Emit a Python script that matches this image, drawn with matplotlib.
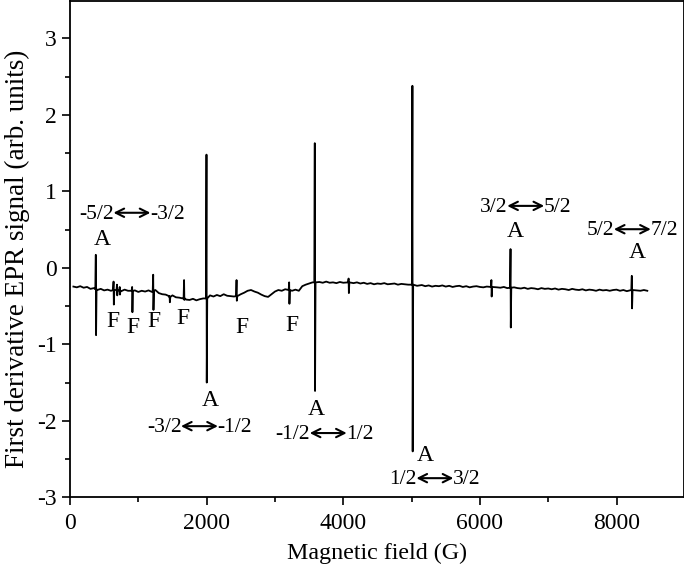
import numpy as np
import matplotlib
matplotlib.use("Agg")
import matplotlib.pyplot as plt
import matplotlib.transforms as mtransforms
from matplotlib.ticker import MultipleLocator

# baseline of the spectrum (field in G, signal in arb. units)
base_field = [50, 100, 150, 200, 250, 300, 350, 400, 450, 500, 550, 600, 700, 750,
              800, 850, 950, 1000, 1050, 1100, 1150, 1200, 1250, 1300, 1350, 1400,
              1450, 1500, 1550, 1600, 1650, 1700, 1750, 1800, 1850, 1900, 1950,
              2050, 2100, 2150, 2200, 2250, 2300, 2350, 2400, 2500, 2550, 2600,
              2650, 2700, 2750, 2800, 2850, 2900, 2950, 3000, 3050, 3100, 3150,
              3250, 3300, 3350, 3400, 3450, 3500, 3550, 3650, 3700, 3750, 3800,
              3850, 3900, 3950, 4000, 4150, 4200, 4250, 4300, 4350, 4400, 4450,
              4500, 4550, 4600, 4650, 4700, 4750, 4800, 4850, 4900, 4950, 5080,
              5150, 5200, 5250, 5300, 5350, 5400, 5450, 5500, 5550, 5600, 5650,
              5700, 5750, 5800, 5850, 5900, 5950, 6000, 6050, 6100, 6250, 6300,
              6350, 6400, 6500, 6550, 6600, 6650, 6700, 6750, 6800, 6850, 6900,
              6950, 7000, 7050, 7100, 7150, 7200, 7250, 7300, 7350, 7400, 7450,
              7500, 7550, 7600, 7650, 7700, 7750, 7800, 7850, 7900, 7950, 8000,
              8050, 8100, 8150, 8300, 8350, 8400, 8450]
base_signal = [-0.245, -0.255, -0.24, -0.26, -0.25, -0.275, -0.265, -0.29, -0.275, -0.295, -0.285, -0.30, -0.29, -0.305,
               -0.285, -0.30, -0.295, -0.315, -0.30, -0.31, -0.295, -0.315, -0.29, -0.33, -0.345, -0.35,
               -0.37, -0.36, -0.385, -0.39, -0.40, -0.415, -0.42, -0.405, -0.425, -0.41, -0.40,
               -0.36, -0.375, -0.355, -0.37, -0.345, -0.365, -0.37, -0.375, -0.345, -0.325, -0.30,
               -0.29, -0.31, -0.325, -0.35, -0.37, -0.38, -0.345, -0.31, -0.29, -0.30, -0.28,
               -0.30, -0.285, -0.30, -0.24, -0.22, -0.205, -0.19, -0.185, -0.195, -0.18, -0.195,
               -0.19, -0.20, -0.185, -0.195, -0.20, -0.19, -0.205, -0.195, -0.21, -0.20, -0.215,
               -0.205, -0.21, -0.20, -0.215, -0.21, -0.205, -0.22, -0.21, -0.215, -0.22, -0.235,
               -0.225, -0.24, -0.23, -0.245, -0.235, -0.24, -0.23, -0.245, -0.235, -0.25, -0.24,
               -0.235, -0.25, -0.24, -0.255, -0.245, -0.24, -0.25, -0.255, -0.245, -0.255, -0.26,
               -0.25, -0.265, -0.255, -0.265, -0.27, -0.26, -0.275, -0.265, -0.27, -0.28, -0.265,
               -0.275, -0.27, -0.28, -0.27, -0.285, -0.275, -0.28, -0.29, -0.275, -0.285, -0.29,
               -0.28, -0.295, -0.285, -0.29, -0.30, -0.285, -0.295, -0.29, -0.30, -0.29, -0.285,
               -0.30, -0.29, -0.305, -0.295, -0.30, -0.29, -0.30]

# sharp resonance lines: position, upper and lower extreme, local baseline
line_field = [380, 640, 690, 730, 912, 1220, 1460, 1672, 2000, 2440, 3210, 3585,
              4080, 5014, 6170, 6450, 8225]
line_top = [0.17, -0.18, -0.22, -0.25, -0.25, -0.09, -0.37, -0.16, 1.48, -0.16,
            -0.19, 1.63, -0.14, 2.38, -0.16, 0.245, -0.105]
line_bottom = [-0.88, -0.48, -0.36, -0.35, -0.58, -0.55, -0.45, -0.42, -1.50, -0.43,
               -0.47, -1.61, -0.33, -2.40, -0.375, -0.78, -0.53]
line_base = [-0.28, -0.29, -0.29, -0.30, -0.30, -0.30, -0.38, -0.40, -0.40, -0.37,
             -0.29, -0.19, -0.19, -0.22, -0.25, -0.26, -0.29]

# site labels (A / F)
site_text = ["A", "F", "F", "F", "F", "A", "F", "F", "A", "A", "A", "A"]
site_x = [470, 634, 927, 1234, 1650, 2060, 2514, 3246, 3611, 5198, 6515, 8297]
site_y = [0.37, -0.70, -0.78, -0.70, -0.66, -1.74, -0.78, -0.75, -1.85, -2.45, 0.475, 0.20]

# transition labels: left spin, right spin, arrow centre
trans_left = ["-5/2", "-3/2", "-1/2", "1/2", "3/2", "5/2"]
trans_right = ["-3/2", "-1/2", "1/2", "3/2", "5/2", "7/2"]
trans_x = [907, 1895, 3780, 5341, 6670, 8231]
trans_y = [0.72, -2.07, -2.16, -2.75, 0.81, 0.505]

# assemble trace
fx = list(base_field)
fy = list(base_signal)
for f, t, b, s in zip(line_field, line_top, line_bottom, line_base):
    fx += [f - 9, f - 2, f + 2, f + 9]
    fy += [s, t, b, s]
order = np.argsort(fx, kind="stable")
fx = np.array(fx)[order]
fy = np.array(fy)[order]

plt.rcParams["font.family"] = ["Liberation Serif", "DejaVu Sans"]
plt.rcParams["axes.unicode_minus"] = False

fig = plt.figure(figsize=(6.84, 5.66), dpi=100)
ax = fig.add_axes([0.1023, 0.1214, 0.897, 0.877])
ax.plot(fx, fy, color="black", lw=1.3)

for t, x, y in zip(site_text, site_x, site_y):
    ax.text(x, y, t, ha="center", va="center", fontsize=17)

half = 13.3  # half arrow length in points
tr_l = mtransforms.offset_copy(ax.transData, fig=fig, x=-half, y=0, units="points")
tr_r = mtransforms.offset_copy(ax.transData, fig=fig, x=half, y=0, units="points")
tr_lt = mtransforms.offset_copy(ax.transData, fig=fig, x=-half + 0.3, y=-1.2, units="points")
tr_rt = mtransforms.offset_copy(ax.transData, fig=fig, x=half - 0.3, y=-1.2, units="points")
for a, b, x, y in zip(trans_left, trans_right, trans_x, trans_y):
    ax.annotate("", xy=(x, y), xycoords=tr_l, xytext=(x, y), textcoords=tr_r,
                arrowprops=dict(arrowstyle="<->", lw=1.5, color="black",
                                shrinkA=0, shrinkB=0, mutation_scale=15))
    ax.text(x, y, a, transform=tr_lt, ha="right", va="center", fontsize=15.5)
    ax.text(x, y, b, transform=tr_rt, ha="left", va="center", fontsize=15.5)

ax.set_xlim(0, 8980)
ax.set_ylim(-3, 3.49)
ax.xaxis.set_major_locator(MultipleLocator(2000))
ax.xaxis.set_minor_locator(MultipleLocator(1000))
ax.yaxis.set_major_locator(MultipleLocator(1))
ax.yaxis.set_minor_locator(MultipleLocator(0.5))
ax.tick_params(which="both", direction="out", top=False, right=False, width=1.2,
               labelsize=17)
ax.tick_params(which="major", length=6)
ax.tick_params(which="minor", length=3.5)
ax.tick_params(axis="x", pad=5.5)
for sp in ax.spines.values():
    sp.set_linewidth(1.3)

ax.set_xlabel("Magnetic field (G)", fontsize=17.3, labelpad=6)
ax.set_ylabel("First derivative EPR signal (arb. units)", fontsize=19.5)
ax.yaxis.set_label_coords(-0.065, 0.48)

fig.savefig("out.png", dpi=100)
